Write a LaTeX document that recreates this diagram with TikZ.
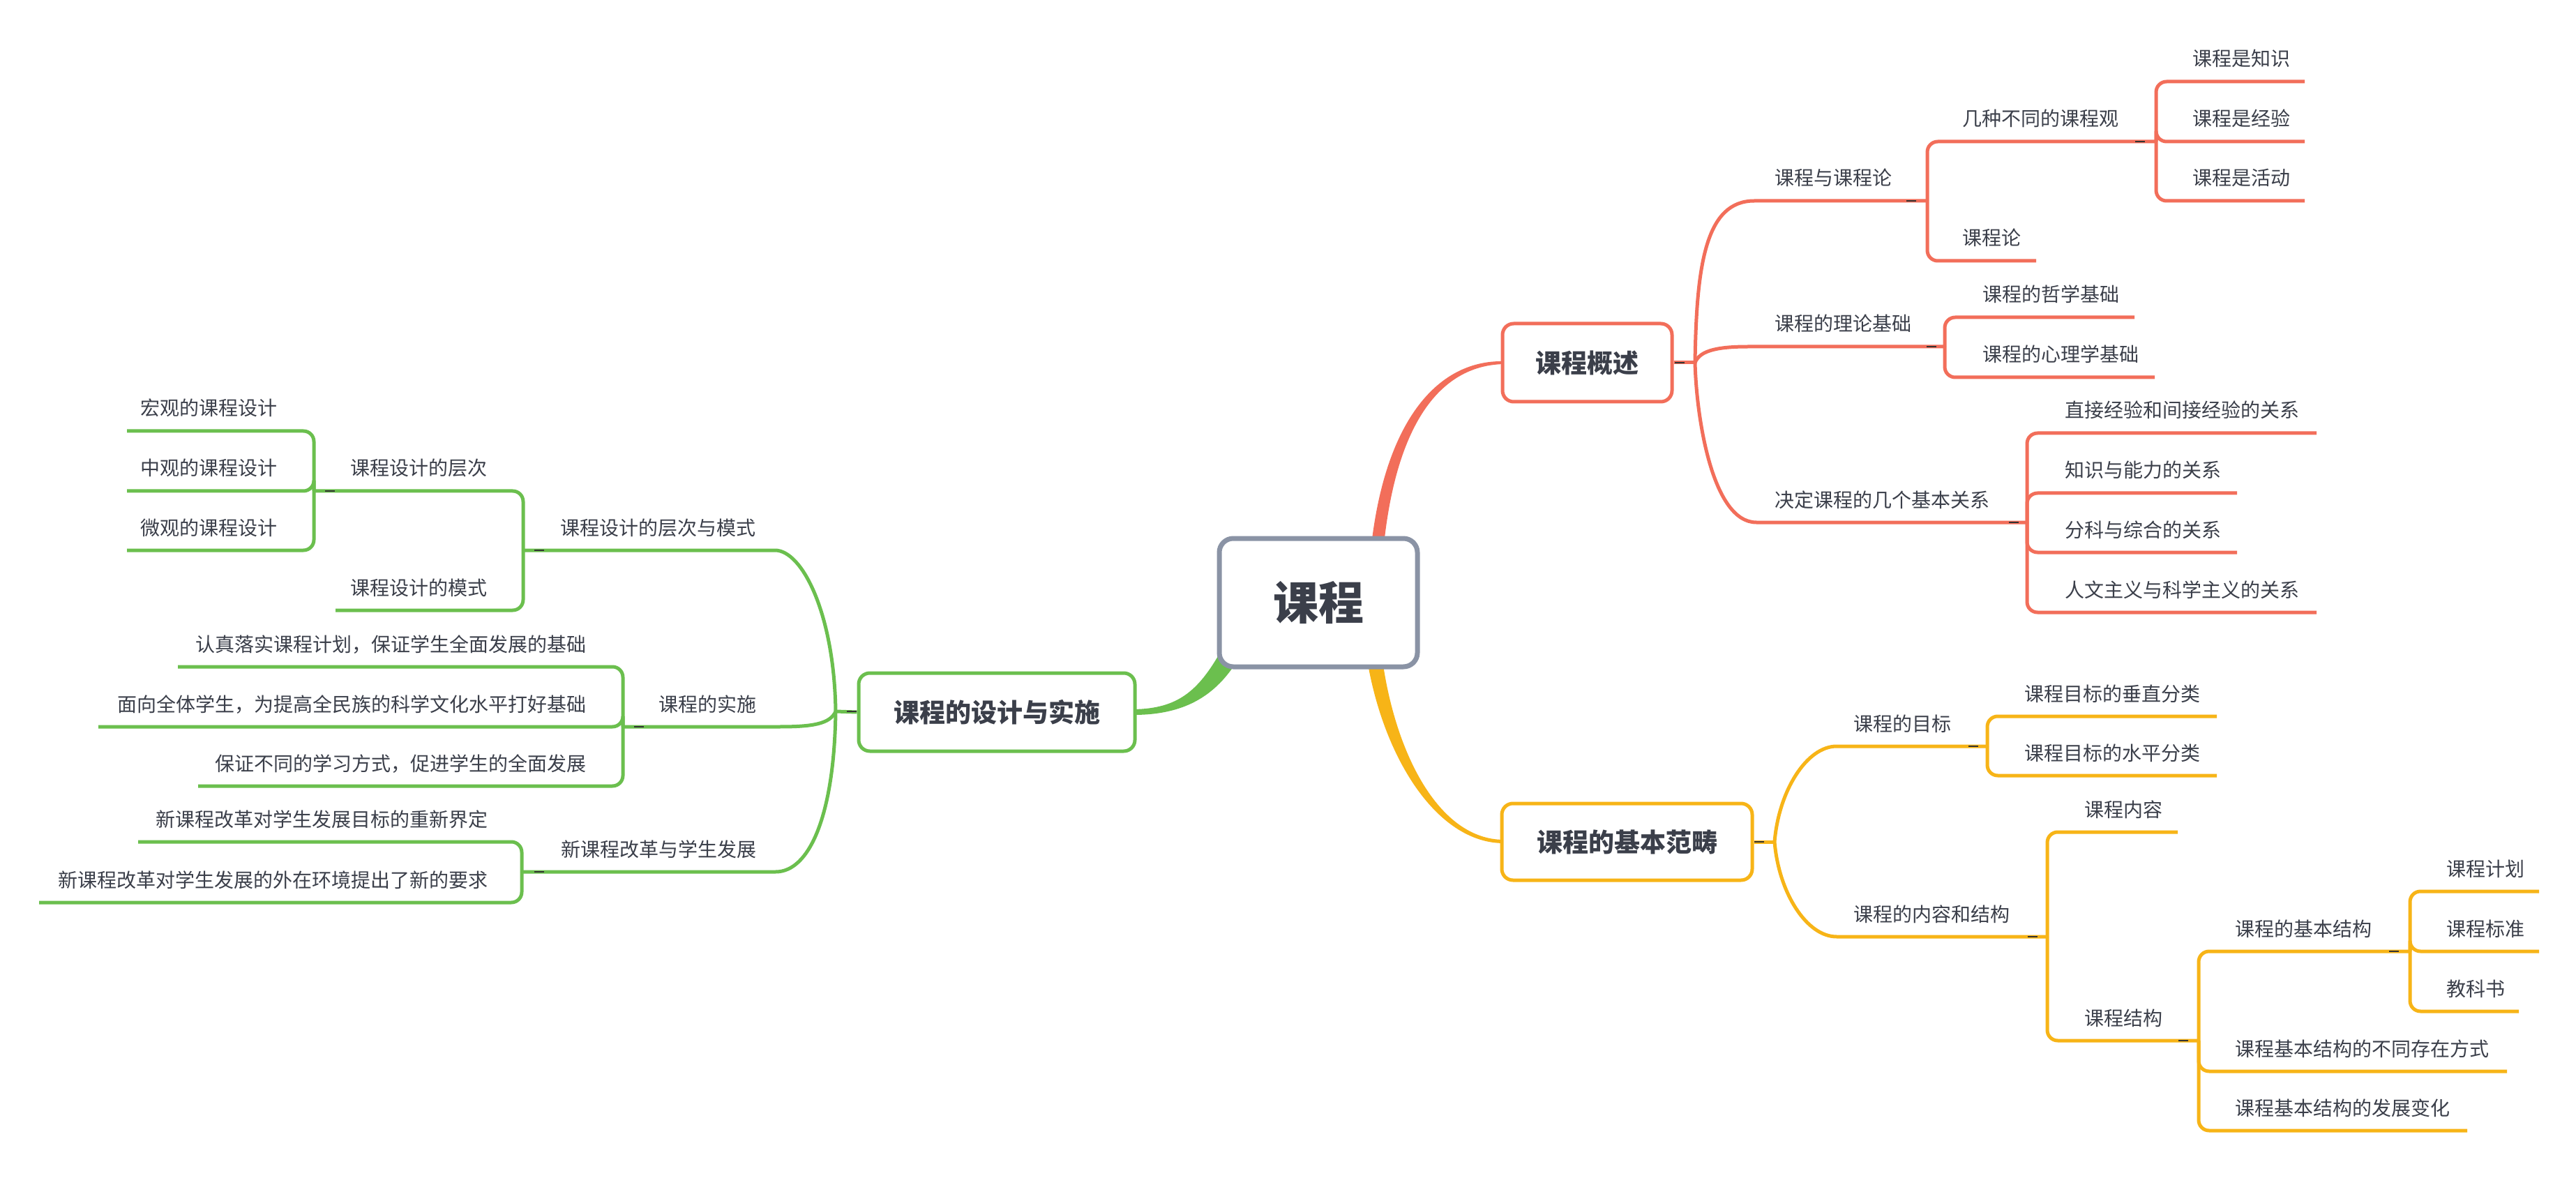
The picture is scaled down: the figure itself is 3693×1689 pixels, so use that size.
\documentclass[tikz,border=0pt]{standalone}
\usepackage{fontspec}
\newfontfamily\cjk{Noto Sans CJK SC}
\definecolor{cred}{HTML}{F26E5A}
\definecolor{cyel}{HTML}{F7B417}
\definecolor{cgrn}{HTML}{6BBF4E}
\definecolor{cgray}{HTML}{8A93A5}
\definecolor{txtc}{HTML}{3B3F4A}
\definecolor{mkc}{HTML}{333333}
\tikzset{
  ln/.style={line width=2.5pt},
  rc/.style={ln, rounded corners=7.5pt},
  R/.style={draw=cred}, Y/.style={draw=cyel}, G/.style={draw=cgrn},
  lbl/.style={font=\cjk\fontsize{14pt}{16pt}\selectfont, text=txtc, inner sep=0pt},
  rl/.style={lbl, anchor=base west},
  ll/.style={lbl, anchor=base east},
  mbox/.style={draw, fill=white, rounded corners=8pt, line width=2.5pt, text=txtc,
    font=\cjk\bfseries\fontsize{18.5pt}{22pt}\selectfont, minimum height=56pt, inner sep=0pt},
  rootbox/.style={draw=cgray, fill=white, rounded corners=10pt, line width=3.5pt, text=txtc,
    font=\cjk\bfseries\fontsize{32.5pt}{36pt}\selectfont, minimum width=142pt, minimum height=92pt, inner sep=0pt},
  mk/.style={draw=mkc, line width=1pt}
}
\newcommand\mmR[6]{%
  \coordinate (#1-s) at (#4,#3);
  \coordinate (#1-e) at (#5,#3);
  \node[rl] (#1) at (#2,#3-22) {#6};}
\newcommand\mmL[6]{%
  \coordinate (#1-s) at (#4,#3);
  \coordinate (#1-e) at (#5,#3);
  \node[ll] (#1) at (#2,#3-22) {#6};}
\begin{document}
\begin{tikzpicture}[x=0.5pt,y=-0.5pt]
\useasboundingbox (0,0) rectangle (3693,1689);
\fill[white] (0,0) rectangle (3693,1689);

% tapered main branches
\fill[cred] (1965,790) .. controls (1984,608) and (2058,516) .. (2156,518) -- (2156,522) .. controls (2062,524) and (2000,612) .. (1983,790) -- cycle;
\fill[cyel] (1981,940) .. controls (1999,1078) and (2062,1204) .. (2156,1204) -- (2156,1209) .. controls (2058,1209) and (1981,1082) .. (1959,940) -- cycle;
\fill[cgrn] (1772,950) .. controls (1740,1000) and (1695,1025) .. (1625,1025) -- (1625,1017) .. controls (1690,1016) and (1720,990) .. (1755,925) -- cycle;

% root and main boxes
\node[rootbox] (root) at (1890,864) {课程};
\node[mbox, draw=cred, minimum width=121.5pt] (ov) at (2275.5,520) {课程概述};
\node[mbox, draw=cyel, minimum width=179.5pt, minimum height=55pt] (cat) at (2332.5,1207) {课程的基本范畴};
\node[mbox, draw=cgrn, minimum width=198pt] (des) at (1429,1021) {课程的设计与实施};

\coordinate (rT) at (2430,520);
\coordinate (yT) at (2544,1207);
\coordinate (gT) at (1198,1020);
\draw[ln,R] (ov.east) -- (rT);
\draw[ln,Y] (cat.east) -- (yT);
\draw[ln,G] (des.west) -- (gT);

% ---------- red ----------
\mmR{r1}{2544}{288}{2515}{2763}{课程与课程论}
\mmR{r2}{2544}{497}{2506}{2788}{课程的理论基础}
\mmR{r3}{2544}{749}{2518}{2906}{决定课程的几个基本关系}
\draw[ln,R] (rT) .. controls (2432,380) and (2445,288) .. (r1-s) -- (r1-e);
\draw[ln,R] (rT) .. controls (2436,505) and (2455,497) .. (r2-s) -- (r2-e);
\draw[ln,R] (rT) .. controls (2432,600) and (2455,749) .. (r3-s) -- (r3-e);

\mmR{r11}{2813}{203}{2763}{3091}{几种不同的课程观}
\mmR{r12}{2813}{374}{2763}{2919}{课程论}
\draw[rc,R] (r1-e) |- (r11-e);
\draw[rc,R] (r1-e) |- (r12-e);

\mmR{r111}{3143}{117}{3091}{3304}{课程是知识}
\mmR{r112}{3143}{203}{3091}{3304}{课程是经验}
\mmR{r113}{3143}{288}{3091}{3304}{课程是活动}
\draw[rc,R] (r11-e) |- (r111-e);
\draw[rc,R] (r11-e) |- (r112-e);
\draw[rc,R] (r11-e) |- (r113-e);

\mmR{r21}{2842}{455}{2788}{3060}{课程的哲学基础}
\mmR{r22}{2842}{541}{2788}{3089}{课程的心理学基础}
\draw[rc,R] (r2-e) |- (r21-e);
\draw[rc,R] (r2-e) |- (r22-e);

\mmR{r31}{2960}{621}{2906}{3321}{直接经验和间接经验的关系}
\mmR{r32}{2960}{707}{2906}{3207}{知识与能力的关系}
\mmR{r33}{2960}{792}{2906}{3207}{分科与综合的关系}
\mmR{r34}{2960}{878}{2906}{3321}{人文主义与科学主义的关系}
\draw[rc,R] (r3-e) |- (r31-e);
\draw[rc,R] (r3-e) |- (r32-e);
\draw[rc,R] (r3-e) |- (r33-e);
\draw[rc,R] (r3-e) |- (r34-e);

% ---------- yellow ----------
\mmR{y1}{2657}{1070}{2633}{2849}{课程的目标}
\mmR{y2}{2657}{1343}{2633}{2935}{课程的内容和结构}
\draw[ln,Y] (yT) .. controls (2550,1134) and (2590,1070) .. (y1-s) -- (y1-e);
\draw[ln,Y] (yT) .. controls (2550,1280) and (2590,1343) .. (y2-s) -- (y2-e);

\mmR{y11}{2902}{1027}{2849}{3178}{课程目标的垂直分类}
\mmR{y12}{2902}{1112}{2849}{3178}{课程目标的水平分类}
\draw[rc,Y] (y1-e) |- (y11-e);
\draw[rc,Y] (y1-e) |- (y12-e);

\mmR{y21}{2988}{1193}{2935}{3122}{课程内容}
\mmR{y22}{2988}{1492}{2935}{3152}{课程结构}
\draw[rc,Y] (y2-e) |- (y21-e);
\draw[rc,Y] (y2-e) |- (y22-e);

\mmR{y221}{3204}{1364}{3152}{3455}{课程的基本结构}
\mmR{y222}{3204}{1536}{3152}{3594}{课程基本结构的不同存在方式}
\mmR{y223}{3204}{1621}{3152}{3537}{课程基本结构的发展变化}
\draw[rc,Y] (y22-e) |- (y221-e);
\draw[rc,Y] (y22-e) |- (y222-e);
\draw[rc,Y] (y22-e) |- (y223-e);

\mmR{y2211}{3507}{1278}{3455}{3640}{课程计划}
\mmR{y2212}{3507}{1364}{3455}{3640}{课程标准}
\mmR{y2213}{3507}{1450}{3455}{3611}{教科书}
\draw[rc,Y] (y221-e) |- (y2211-e);
\draw[rc,Y] (y221-e) |- (y2212-e);
\draw[rc,Y] (y221-e) |- (y2213-e);

% ---------- green ----------
\mmL{g1}{1084}{789}{750}{1111}{课程设计的层次与模式}
\mmL{g2}{1085}{1042}{893}{1117}{课程的实施}
\mmL{g3}{1085}{1250}{748}{1112}{新课程改革与学生发展}
\draw[ln,G] (gT) .. controls (1196,880) and (1150,789) .. (g1-e) -- (g1-s);
\draw[ln,G] (gT) .. controls (1190,1038) and (1165,1042) .. (g2-e) -- (g2-s);
\draw[ln,G] (gT) .. controls (1196,1170) and (1160,1250) .. (g3-e) -- (g3-s);

\mmL{g11}{699}{704}{450}{750}{课程设计的层次}
\mmL{g12}{699}{875}{481}{750}{课程设计的模式}
\draw[rc,G] (g1-s) |- (g11-s);
\draw[rc,G] (g1-s) |- (g12-s);

\mmL{g111}{398}{618}{182}{450}{宏观的课程设计}
\mmL{g112}{398}{704}{182}{450}{中观的课程设计}
\mmL{g113}{398}{789}{182}{450}{微观的课程设计}
\draw[rc,G] (g11-s) |- (g111-s);
\draw[rc,G] (g11-s) |- (g112-s);
\draw[rc,G] (g11-s) |- (g113-s);

\mmL{g21}{841}{956}{255}{893}{认真落实课程计划，保证学生全面发展的基础}
\mmL{g22}{841}{1042}{141}{893}{面向全体学生，为提高全民族的科学文化水平打好基础}
\mmL{g23}{841}{1127}{284}{893}{保证不同的学习方式，促进学生的全面发展}
\draw[rc,G] (g2-s) |- (g21-s);
\draw[rc,G] (g2-s) |- (g22-s);
\draw[rc,G] (g2-s) |- (g23-s);

\mmL{g31}{700}{1207}{198}{748}{新课程改革对学生发展目标的重新界定}
\mmL{g32}{700}{1294}{56}{748}{新课程改革对学生发展的外在环境提出了新的要求}
\draw[rc,G] (g3-s) |- (g31-s);
\draw[rc,G] (g3-s) |- (g32-s);

% collapse markers
\foreach \mx/\my in {2408/520,2740/288,2769/497,3068/203,2887/749,
  2522/1207,2829/1070,2914/1343,3130/1492,3432/1364,
  1221/1020,773/789,473/704,916/1042,773/1250}
  \draw[mk] (\mx-7,\my) -- (\mx+7,\my);
\end{tikzpicture}
\end{document}
